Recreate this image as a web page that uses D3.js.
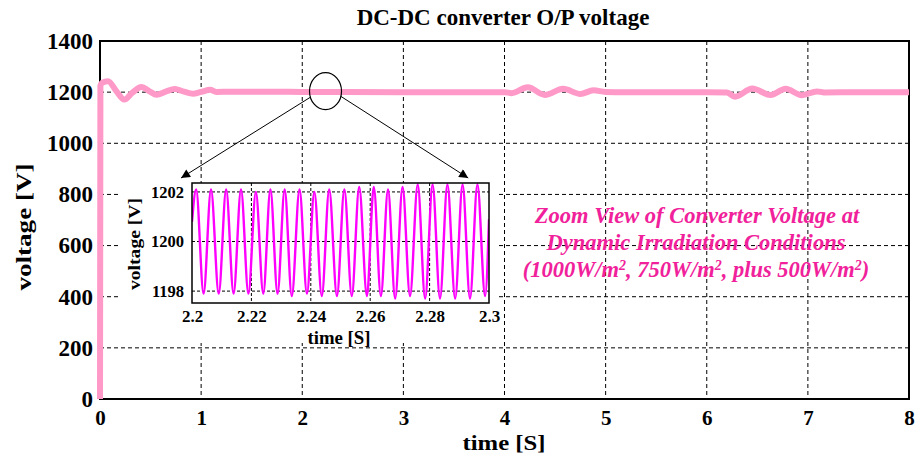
<!DOCTYPE html>
<html>
<head>
<meta charset="utf-8">
<script src="https://cdn.jsdelivr.net/npm/d3@7"></script>
<style>
  body { margin: 0; background: #fff; }
  text { font-family: "Liberation Serif", "Times New Roman", serif; font-weight: bold; }
</style>
</head>
<body>
<script>
// main trace (time in s, voltage in V)
const mainTime = [0, 0.004, 0.02, 0.08, 0.16, 0.24, 0.32, 0.41, 0.49, 0.56, 0.65, 0.74, 0.83, 0.92, 1.0, 1.09, 1.15, 1.3, 2.0, 3.0,
  4.0, 4.07, 4.23, 4.40, 4.58, 4.75, 4.88, 5.0, 5.2, 6.0, 6.2, 6.28, 6.45, 6.63, 6.78, 6.94, 7.09, 7.16, 7.5, 8.0];
const mainVolt = [0, 1225, 1236, 1243, 1205, 1171, 1198, 1220, 1203, 1190, 1202, 1212, 1202, 1194, 1201, 1209, 1201, 1202, 1201, 1200,
  1200, 1196, 1219, 1189, 1213, 1193, 1207, 1201, 1200, 1200, 1199, 1182, 1214, 1189, 1213, 1188, 1203, 1199, 1200, 1200];

const xTicks = [0, 1, 2, 3, 4, 5, 6, 7, 8];
const yTicks = [0, 200, 400, 600, 800, 1000, 1200, 1400];

// zoomed window 2.2 - 2.3 s
const insetTime = [2.2, 2.2014, 2.2039, 2.2064, 2.209, 2.2115, 2.214, 2.2165, 2.219, 2.2215, 2.224, 2.2264, 2.2288, 2.2312, 2.2336,
  2.2362, 2.2387, 2.2412, 2.2437, 2.2462, 2.2488, 2.2513, 2.2538, 2.2563, 2.2589, 2.2612, 2.2636, 2.266, 2.2684, 2.2709, 2.2734,
  2.276, 2.2785, 2.281, 2.2835, 2.286, 2.2886, 2.2911, 2.2936, 2.2961, 2.2987, 2.3];
const insetVolt = [1200.8, 1202.1, 1197.9, 1202.1, 1197.9, 1202.1, 1197.9, 1202.1, 1197.9, 1202.0, 1197.9, 1202.1, 1197.9, 1202.1, 1197.8,
  1202.1, 1197.9, 1202.0, 1197.8, 1202.1, 1197.8, 1202.1, 1197.8, 1202.2, 1197.8, 1202.2, 1197.8, 1202.1, 1197.7, 1202.2, 1197.8,
  1202.3, 1197.7, 1202.3, 1197.7, 1202.3, 1197.7, 1202.3, 1197.7, 1202.3, 1197.8, 1200.9];
const insetXTicks = [2.2, 2.22, 2.24, 2.26, 2.28, 2.3];
const insetYTicks = [1198, 1200, 1202];

const width = 916;
const height = 460;
const m = { left: 100, right: 909, top: 41, bottom: 399 };
const ins = { left: 192, right: 489, top: 183, bottom: 303 };

const svg = d3.select("body").append("svg")
    .attr("width", width)
    .attr("height", height);

const x = d3.scaleLinear().domain([0, 8]).range([m.left, m.right]);
const y = d3.scaleLinear().domain([0, 1400]).range([m.bottom, m.top]);

// grid
svg.append("g").selectAll("line")
    .data(xTicks.slice(1, -1))
    .join("line")
    .attr("x1", d => x(d)).attr("x2", d => x(d))
    .attr("y1", m.top).attr("y2", m.bottom)
    .attr("stroke", "#000").attr("stroke-width", 1).attr("stroke-dasharray", "4,3");
svg.append("g").selectAll("line")
    .data(yTicks.slice(1, -1))
    .join("line")
    .attr("x1", m.left).attr("x2", m.right)
    .attr("y1", d => y(d)).attr("y2", d => y(d))
    .attr("stroke", "#000").attr("stroke-width", 1).attr("stroke-dasharray", "4,3");

// axes
svg.append("g")
    .attr("transform", `translate(0,${m.bottom})`)
    .call(d3.axisBottom(x).tickValues(xTicks).tickFormat(d3.format("d")).tickSize(0))
    .call(g => g.select(".domain").remove())
    .selectAll("text")
    .attr("y", 26).attr("dy", 0)
    .attr("font-size", 21).attr("fill", "#000")
    .attr("font-family", "Liberation Serif").attr("font-weight", "bold");
svg.append("g")
    .attr("transform", `translate(${m.left},0)`)
    .call(d3.axisLeft(y).tickValues(yTicks).tickFormat(d3.format("d")).tickSize(0).tickPadding(7))
    .call(g => g.select(".domain").remove())
    .selectAll("text")
    .attr("font-size", 23).attr("fill", "#000")
    .attr("font-family", "Liberation Serif").attr("font-weight", "bold");

svg.append("rect")
    .attr("x", m.left).attr("y", m.top)
    .attr("width", m.right - m.left).attr("height", m.bottom - m.top)
    .attr("fill", "none").attr("stroke", "#000").attr("stroke-width", 2);

// main trace
const line = d3.line()
    .x((d, i) => x(mainTime[i]))
    .y(d => y(d))
    .curve(d3.curveMonotoneX);
svg.append("path")
    .attr("d", line(mainVolt))
    .attr("fill", "none")
    .attr("stroke", "#ff99c8")
    .attr("stroke-width", 6);

// titles
svg.append("text")
    .attr("x", 503).attr("y", 25)
    .attr("text-anchor", "middle").attr("font-size", 23)
    .text("DC-DC converter O/P voltage");
svg.append("text")
    .attr("x", 504).attr("y", 450)
    .attr("text-anchor", "middle").attr("font-size", 22)
    .attr("textLength", 83).attr("lengthAdjust", "spacingAndGlyphs")
    .text("time [S]");
svg.append("text")
    .attr("transform", "translate(31,227) rotate(-90)")
    .attr("text-anchor", "middle").attr("font-size", 22)
    .attr("textLength", 127).attr("lengthAdjust", "spacingAndGlyphs")
    .text("voltage [V]");

// zoom marker + arrows
svg.append("defs").append("marker")
    .attr("id", "arr")
    .attr("viewBox", "0 0 10 10")
    .attr("refX", 10).attr("refY", 5)
    .attr("markerWidth", 12).attr("markerHeight", 9)
    .attr("markerUnits", "userSpaceOnUse")
    .attr("orient", "auto")
    .append("path").attr("d", "M0,0L10,5L0,10z").attr("fill", "#000");

const cx = x(2.24) - 1;
const cy = y(1200) - 1;
svg.append("ellipse")
    .attr("cx", cx).attr("cy", cy)
    .attr("rx", 16).attr("ry", 18.5)
    .attr("fill", "none").attr("stroke", "#000").attr("stroke-width", 1.2);

// inset
const ix = d3.scaleLinear().domain([2.2, 2.3]).range([ins.left, ins.right]);
const iy = d3.scaleLinear().domain([1197.52, 1202.36]).range([ins.bottom, ins.top]);

svg.append("line")
    .attr("x1", cx - 15).attr("y1", cy + 6)
    .attr("x2", ins.left - 11).attr("y2", ins.top - 5)
    .attr("stroke", "#000").attr("stroke-width", 1)
    .attr("marker-end", "url(#arr)");
svg.append("line")
    .attr("x1", cx + 15).attr("y1", cy + 5)
    .attr("x2", ix(2.293)).attr("y2", ins.top - 5)
    .attr("stroke", "#000").attr("stroke-width", 1)
    .attr("marker-end", "url(#arr)");

const inset = svg.append("g");
inset.append("rect")
    .attr("x", 118).attr("y", ins.top)
    .attr("width", ins.right + 10 - 118).attr("height", 160)
    .attr("fill", "#fff");

inset.append("g").selectAll("line")
    .data(insetXTicks.slice(1, -1))
    .join("line")
    .attr("x1", d => ix(d)).attr("x2", d => ix(d))
    .attr("y1", ins.top).attr("y2", ins.bottom)
    .attr("stroke", "#000").attr("stroke-width", 1).attr("stroke-dasharray", "3,2");
inset.append("g").selectAll("line")
    .data(insetYTicks)
    .join("line")
    .attr("x1", ins.left).attr("x2", ins.right)
    .attr("y1", d => iy(d)).attr("y2", d => iy(d))
    .attr("stroke", "#000").attr("stroke-width", 1).attr("stroke-dasharray", "3,2");

inset.append("clipPath").attr("id", "iclip")
    .append("rect")
    .attr("x", ins.left).attr("y", ins.top)
    .attr("width", ins.right - ins.left).attr("height", ins.bottom - ins.top);

const iline = d3.line()
    .x((d, i) => ix(insetTime[i]))
    .y(d => iy(d))
    .curve(d3.curveMonotoneX);
inset.append("path")
    .attr("d", iline(insetVolt))
    .attr("clip-path", "url(#iclip)")
    .attr("fill", "none")
    .attr("stroke", "#ff00ff")
    .attr("stroke-width", 2.4);

inset.append("rect")
    .attr("x", ins.left).attr("y", ins.top)
    .attr("width", ins.right - ins.left).attr("height", ins.bottom - ins.top)
    .attr("fill", "none").attr("stroke", "#000").attr("stroke-width", 1.5);

inset.append("g")
    .attr("transform", `translate(0,${ins.bottom})`)
    .call(d3.axisBottom(ix).tickValues(insetXTicks).tickFormat(d3.format("")).tickSize(0))
    .call(g => g.select(".domain").remove())
    .selectAll("text")
    .attr("y", 19).attr("dy", 0)
    .attr("font-size", 17).attr("fill", "#000")
    .attr("font-family", "Liberation Serif").attr("font-weight", "bold");
inset.append("g")
    .attr("transform", `translate(${ins.left},0)`)
    .call(d3.axisLeft(iy).tickValues(insetYTicks).tickFormat(d3.format("d")).tickSize(0).tickPadding(8))
    .call(g => g.select(".domain").remove())
    .selectAll("text")
    .attr("font-size", 16.5).attr("fill", "#000")
    .attr("font-family", "Liberation Serif").attr("font-weight", "bold");

inset.append("text")
    .attr("x", 339).attr("y", 344)
    .attr("text-anchor", "middle").attr("font-size", 18)
    .attr("textLength", 63).attr("lengthAdjust", "spacingAndGlyphs")
    .text("time [S]");
inset.append("text")
    .attr("transform", "translate(140,244) rotate(-90)")
    .attr("text-anchor", "middle").attr("font-size", 17)
    .attr("textLength", 92).attr("lengthAdjust", "spacingAndGlyphs")
    .text("voltage [V]");

// note
const noteColor = "#f0219a";
const note = svg.append("g")
    .attr("fill", noteColor)
    .attr("font-style", "italic")
    .attr("font-size", 22.5)
    .attr("text-anchor", "middle");
note.append("text").attr("x", 697).attr("y", 223).text("Zoom View of Converter Voltage at");
note.append("text").attr("x", 696).attr("y", 250).text("Dynamic Irradiation Conditions");

const parts = [["(1000W/m", "2"], [", 750W/m", "2"], [", plus 500W/m", "2"], [")", null]];
const t3 = note.append("text").attr("x", 696).attr("y", 277);
parts.forEach(p => {
    t3.append("tspan").text(p[0]);
    if (p[1]) {
        t3.append("tspan")
            .attr("baseline-shift", "super")
            .attr("font-size", 14)
            .text(p[1]);
    }
});
</script>
</body>
</html>
